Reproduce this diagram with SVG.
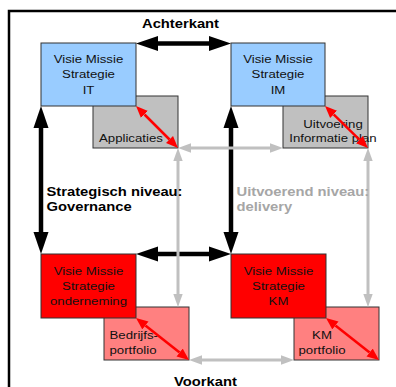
<svg xmlns="http://www.w3.org/2000/svg" width="396" height="387" viewBox="0 0 396 387">
<style>
.t{font-family:"Liberation Sans",Arial,sans-serif;font-size:11.5px;fill:#111;text-anchor:middle}
.ts{text-anchor:start}
.b{font-family:"Liberation Sans",Arial,sans-serif;font-size:12px;font-weight:bold;fill:#000}
.bc{text-anchor:middle}
.g{fill:#a6a6a6}
.box{stroke:#333;stroke-width:1}
.blue{fill:#99ccff}.gray{fill:#c0c0c0}.red{fill:#ff0000}.pink{fill:#ff8080}
.kb{stroke:#000;stroke-width:4.5;fill:none}
.kg{stroke:#c0c0c0;stroke-width:3;fill:none}
.kr{stroke:#ff0000;stroke-width:2.5;fill:none}
</style>
<defs>
<marker id="hb" markerUnits="userSpaceOnUse" markerWidth="24" markerHeight="18" refX="0" refY="8" orient="auto-start-reverse" viewBox="0 0 24 16"><path d="M0,0.5 L22,8 L0,15.5 Z" fill="#000"/></marker>
<marker id="hg" markerUnits="userSpaceOnUse" markerWidth="14" markerHeight="10" refX="0" refY="5" orient="auto-start-reverse" viewBox="0 0 14 10"><path d="M0,0.3 L13,5 L0,9.7 Z" fill="#c0c0c0"/></marker>
<marker id="hr" markerUnits="userSpaceOnUse" markerWidth="13" markerHeight="11" refX="0" refY="5.5" orient="auto-start-reverse" viewBox="0 0 13 11"><path d="M0,0.5 L12,5.5 L0,10.5 Z" fill="#ff0000"/></marker>
</defs>
<rect x="9" y="11" width="420" height="420" fill="none" stroke="#000" stroke-width="2.5"/>

<g id="applicaties"><rect class="box gray" x="93" y="96" width="85" height="52"/><text class="t ts" transform="matrix(1.15 0 0 1 99 142)">Applicaties</text></g>
<g id="it"><rect class="box blue" x="41" y="43" width="95" height="63"/><text class="t" transform="matrix(1.15 0 0 1 88.5 63)"><tspan x="0" y="0">Visie Missie</tspan><tspan x="0" y="15.5">Strategie</tspan><tspan x="0" y="31">IT</tspan></text></g>

<g id="uitvoering"><rect class="box gray" x="283" y="96" width="85" height="52"/><text class="t" transform="matrix(1.15 0 0 1 333 127.5)"><tspan x="0" y="0">Uitvoering</tspan><tspan x="0" y="14.5">Informatie plan</tspan></text></g>
<g id="im"><rect class="box blue" x="231" y="43" width="94" height="63"/><text class="t" transform="matrix(1.15 0 0 1 278 63)"><tspan x="0" y="0">Visie Missie</tspan><tspan x="0" y="15.5">Strategie</tspan><tspan x="0" y="31">IM</tspan></text></g>

<g id="bedrijfsportfolio"><rect class="box pink" x="104" y="307" width="85" height="53"/><text class="t ts" transform="matrix(1.15 0 0 1 109.5 339)"><tspan x="0" y="0">Bedrijfs-</tspan><tspan x="0" y="15.5">portfolio</tspan></text></g>
<g id="onderneming"><rect class="box red" x="41" y="254" width="95" height="64"/><text class="t" transform="matrix(1.15 0 0 1 88.5 275)"><tspan x="0" y="0">Visie Missie</tspan><tspan x="0" y="15">Strategie</tspan><tspan x="0" y="30">onderneming</tspan></text></g>

<g id="kmportfolio"><rect class="box pink" x="294" y="307" width="85" height="53"/><text class="t" transform="matrix(1.15 0 0 1 322 339)"><tspan x="0" y="0">KM</tspan><tspan x="0" y="15.5">portfolio</tspan></text></g>
<g id="km"><rect class="box red" x="231" y="254" width="95" height="64"/><text class="t" transform="matrix(1.15 0 0 1 278.5 275)"><tspan x="0" y="0">Visie Missie</tspan><tspan x="0" y="15">Strategie</tspan><tspan x="0" y="30">KM</tspan></text></g>

<g id="connectors">
<line class="kb" x1="158" y1="43.5" x2="209" y2="43.5" marker-start="url(#hb)" marker-end="url(#hb)"/>
<line class="kb" x1="41" y1="128" x2="41" y2="232" marker-start="url(#hb)" marker-end="url(#hb)"/>
<line class="kb" x1="231" y1="128" x2="231" y2="232" marker-start="url(#hb)" marker-end="url(#hb)"/>
<line class="kb" x1="158" y1="254" x2="209" y2="254" marker-start="url(#hb)" marker-end="url(#hb)"/>
<line class="kg" x1="191" y1="148" x2="270" y2="148" marker-start="url(#hg)" marker-end="url(#hg)"/>
<line class="kg" x1="178" y1="161" x2="178" y2="294" marker-start="url(#hg)" marker-end="url(#hg)"/>
<line class="kg" x1="368" y1="161" x2="368" y2="294" marker-start="url(#hg)" marker-end="url(#hg)"/>
<line class="kg" x1="202" y1="360" x2="281" y2="360" marker-start="url(#hg)" marker-end="url(#hg)"/>
<line class="kr" x1="144.5" y1="114.5" x2="169.5" y2="139.5" marker-start="url(#hr)" marker-end="url(#hr)"/>
<line class="kr" x1="333.6" y1="114.4" x2="359.4" y2="139.6" marker-start="url(#hr)" marker-end="url(#hr)"/>
<line class="kr" x1="145.4" y1="325.5" x2="179.6" y2="352.5" marker-start="url(#hr)" marker-end="url(#hr)"/>
<line class="kr" x1="335.4" y1="325.5" x2="369.6" y2="352.5" marker-start="url(#hr)" marker-end="url(#hr)"/>
</g>

<g id="labels">
<text class="b bc" transform="matrix(1.23 0 0 1 180.5 28)">Achterkant</text>
<text class="b" transform="matrix(1.23 0 0 1 46.5 196)"><tspan x="0" y="0">Strategisch niveau:</tspan><tspan x="0" y="15.5">Governance</tspan></text>
<text class="b g" transform="matrix(1.23 0 0 1 236.5 196)"><tspan x="0" y="0">Uitvoerend niveau:</tspan><tspan x="0" y="15.5">delivery</tspan></text>
<text class="b bc" transform="matrix(1.23 0 0 1 205.5 385.5)">Voorkant</text>
</g>
</svg>
